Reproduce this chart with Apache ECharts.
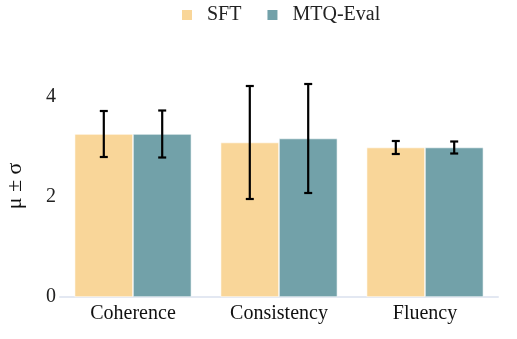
<!DOCTYPE html>
<html>
<head>
<meta charset="utf-8">
<script src="https://cdn.jsdelivr.net/npm/echarts@6/dist/echarts.min.js"></script>
<style>
  html, body { margin: 0; padding: 0; background: #fff; }
  #chart { width: 517px; height: 339px; }
</style>
</head>
<body>
<div id="chart"></div>
<script>
// Evaluation scores per criterion: mean and standard deviation
const categories = ['Coherence', 'Consistency', 'Fluency'];
const seriesNames = ['SFT', 'MTQ-Eval'];
const sftMean = [3.26, 3.09, 2.99];
const sftStd = [0.46, 1.13, 0.13];
const mtqMean = [3.26, 3.17, 2.99];
const mtqStd = [0.47, 1.09, 0.12];
const yTicks = [0, 2, 4];

const colors = ['#F9D699', '#72A1A9'];
const font = 'Liberation Serif, Times New Roman, serif';
const catGap = 0.2; // fraction of the band left empty

function errorSeries(means, stds, idx) {
  const data = means.map((m, i) => [i, m - stds[i], m + stds[i]]);
  return {
    type: 'custom',
    name: seriesNames[idx] + ' σ',
    z: 10,
    silent: true,
    clip: false,
    renderItem: function (params, api) {
      const cat = api.value(0);
      const lo = api.coord([cat, api.value(1)]);
      const hi = api.coord([cat, api.value(2)]);
      const band = api.size([1, 0])[0];
      const barW = band * (1 - catGap) / 2;
      const x = lo[0] + (idx === 0 ? -barW / 2 : barW / 2);
      const cap = 4;
      const style = { stroke: '#000', lineWidth: 2.2 };
      return {
        type: 'group',
        children: [
          { type: 'line', shape: { x1: x, y1: lo[1], x2: x, y2: hi[1] }, style },
          { type: 'line', shape: { x1: x - cap, y1: lo[1], x2: x + cap, y2: lo[1] }, style },
          { type: 'line', shape: { x1: x - cap, y1: hi[1], x2: x + cap, y2: hi[1] }, style }
        ]
      };
    },
    data: data
  };
}

const chart = echarts.init(document.getElementById('chart'), null, { renderer: 'canvas' });
chart.setOption({
  animation: false,
  textStyle: { fontFamily: font },
  legend: {
    data: seriesNames,
    top: 0,
    left: 175,
    itemWidth: 12,
    itemHeight: 12,
    itemGap: 24,
    icon: 'rect',
    textStyle: { fontFamily: font, fontSize: 20, color: '#222', padding: [0, 0, 0, 9] }
  },
  grid: { left: 60, right: 19, top: 67, bottom: 42, outerBoundsMode: 'none', containLabel: false },
  xAxis: {
    type: 'category',
    data: categories,
    axisLine: { lineStyle: { color: '#E3E8F2', width: 2 } },
    axisTick: { show: false },
    axisLabel: { fontFamily: font, fontSize: 20, color: '#111', margin: 7 }
  },
  yAxis: {
    type: 'value',
    min: 0,
    max: 4.6,
    interval: 2,
    name: 'μ ± σ',
    nameLocation: 'middle',
    nameGap: 34,
    nameRotate: 90,
    nameTextStyle: { fontFamily: font, fontSize: 22, color: '#111', padding: [0, 8, 0, 0] },
    axisLine: { show: false },
    axisTick: { show: false },
    splitLine: { show: false },
    axisLabel: {
      fontFamily: font, fontSize: 20, color: '#222', margin: 4,
      showMaxLabel: false,
      formatter: v => (yTicks.indexOf(v) >= 0 ? String(v) : '')
    }
  },
  series: [
    {
      type: 'bar', name: seriesNames[0], data: sftMean,
      barGap: '0%', barCategoryGap: '20%',
      itemStyle: { color: colors[0], borderColor: '#fff', borderWidth: 0.6 }
    },
    {
      type: 'bar', name: seriesNames[1], data: mtqMean,
      itemStyle: { color: colors[1], borderColor: '#fff', borderWidth: 0.6 }
    },
    errorSeries(sftMean, sftStd, 0),
    errorSeries(mtqMean, mtqStd, 1)
  ]
});
</script>
</body>
</html>
